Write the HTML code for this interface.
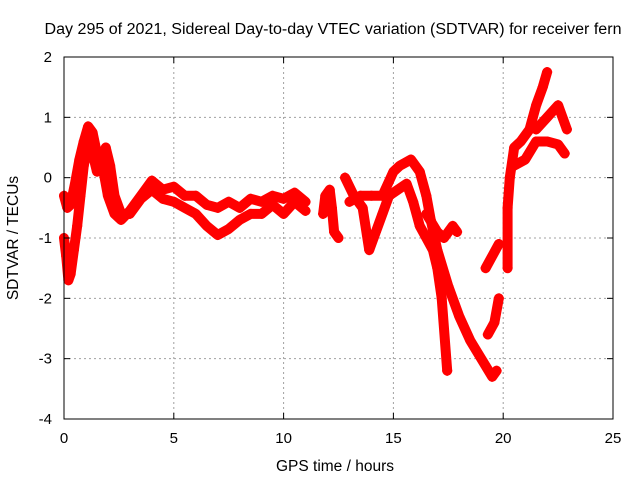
<!DOCTYPE html>
<html><head><meta charset="utf-8"><style>
body{margin:0;background:#fff;}
svg{display:block;font-family:"Liberation Sans",sans-serif;}
</style></head><body>
<svg id="chart" width="640" height="480" xmlns="http://www.w3.org/2000/svg">
<rect width="640" height="480" fill="#fff"/>
<g id="grid"></g>
<g id="series"></g>
<rect x="64" y="57" width="549" height="362" fill="none" stroke="#000" stroke-width="1"/>
<g id="ticks"></g>
<text x="333" y="34" text-anchor="middle" font-size="15.5" textLength="577" lengthAdjust="spacingAndGlyphs">Day 295 of 2021, Sidereal Day-to-day VTEC variation (SDTVAR) for receiver fern</text>
<text x="335" y="471" text-anchor="middle" font-size="15.5">GPS time / hours</text>
<text x="18" y="238" text-anchor="middle" font-size="15.5" transform="rotate(-90 18 238)">SDTVAR / TECUs</text>
</svg>
<script>
const xTicks=[0,5,10,15,20,25];
const yTicks=[-4,-3,-2,-1,0,1,2];
const t1=[0,0.15,0.3,0.5,0.7,0.9,1.1,1.3,1.5,1.8,2.0,2.3,2.6,3.0,3.5,4.0,4.5,5.0,5.5,6.0,6.5,7.0,7.5,8.0,8.5,9.0,9.5,10.0,10.5,11.0];
const v1=[-0.3,-0.5,-0.45,-0.1,0.3,0.6,0.85,0.75,0.4,0.1,-0.3,-0.6,-0.7,-0.55,-0.3,-0.05,-0.2,-0.15,-0.3,-0.3,-0.45,-0.5,-0.4,-0.5,-0.35,-0.4,-0.3,-0.35,-0.25,-0.4];
const t2=[0,0.1,0.2,0.3,0.45,0.6,0.75,0.9,1.1,1.3,1.5,1.7,1.9,2.1,2.3,2.6,3.0,3.5,4.0,4.5,5.0,5.5,6.0,6.5,7.0,7.5,8.0,8.5,9.0,9.5,10.0,10.5,11.0];
const v2=[-1.0,-1.3,-1.7,-1.6,-1.2,-0.8,-0.3,0.2,0.55,0.4,0.1,0.3,0.5,0.2,-0.3,-0.6,-0.6,-0.35,-0.2,-0.35,-0.4,-0.5,-0.6,-0.8,-0.95,-0.85,-0.7,-0.6,-0.6,-0.45,-0.6,-0.4,-0.55];
const t3=[11.8,11.9,12.1,12.2,12.3,12.5];
const v3=[-0.6,-0.3,-0.2,-0.5,-0.9,-1.0];
const t4=[12.8,13.2,13.6,13.9,14.2,14.5,14.8,15.2,15.6,15.9,16.2,16.5,16.8,17.0,17.2,17.45];
const v4=[0,-0.3,-0.5,-1.2,-0.9,-0.6,-0.3,-0.2,-0.1,-0.4,-0.8,-1.0,-1.2,-1.5,-2.0,-3.2];
const t5=[13.0,13.5,14.0,14.5,15.0,15.3,15.8,16.2,16.5,16.7,17.0,17.5,18.0,18.5,19.0,19.5,19.7];
const v5=[-0.4,-0.3,-0.3,-0.3,0.1,0.2,0.3,0.1,-0.3,-0.7,-1.2,-1.8,-2.3,-2.7,-3.0,-3.3,-3.2];
const t6=[16.5,17.0,17.3,17.7,17.9];
const v6=[-0.6,-0.9,-1.0,-0.8,-0.9];
const t7=[19.2,19.5,19.8];
const v7=[-1.5,-1.3,-1.1];
const t8=[19.3,19.6,19.8];
const v8=[-2.6,-2.4,-2.0];
const t9=[20.2,20.2,20.3,20.5,20.8,21.2,21.5,21.8,22.0];
const v9=[-1.5,-0.5,0,0.5,0.6,0.8,1.2,1.5,1.75];
const t10=[20.5,21.0,21.5,22.0,22.5,22.8];
const v10=[0.2,0.3,0.6,0.6,0.55,0.4];
const t11=[21.5,22.0,22.5,22.9];
const v11=[0.8,1.0,1.2,0.8];
const tracks=[[t1,v1],[t2,v2],[t3,v3],[t4,v4],[t5,v5],[t6,v6],[t7,v7],[t8,v8],[t9,v9],[t10,v10],[t11,v11]];
const X0=64,X1=613,Y0=419,Y1=57;
const xs=t=>X0+(t-0)/25*(X1-X0);
const ys=v=>Y0-(v+4)/6*(Y0-Y1);
const NS="http://www.w3.org/2000/svg";
const grid=document.getElementById('grid'),ticks=document.getElementById('ticks'),ser=document.getElementById('series');
function mk(tag,at,parent){const e=document.createElementNS(NS,tag);for(const k in at)e.setAttribute(k,at[k]);parent.appendChild(e);return e;}
xTicks.forEach(t=>{const x=xs(t);
 if(t>0&&t<25){const g=mk('line',{x1:x,x2:x,y1:Y1,y2:Y0,stroke:'#a0a0a0','stroke-dasharray':'2,3'},grid);}
 mk('line',{x1:x,x2:x,y1:Y0,y2:Y0-6,stroke:'#000'},ticks);mk('line',{x1:x,x2:x,y1:Y1,y2:Y1+6,stroke:'#000'},ticks);
 const l=mk('text',{x:x,y:443,'text-anchor':'middle','font-size':'15'},ticks);l.textContent=t;
 });
yTicks.forEach(v=>{const y=ys(v);
 if(v>-4&&v<2){const g=mk('line',{x1:X0,x2:X1,y1:y,y2:y,stroke:'#a0a0a0','stroke-dasharray':'2,3'},grid);}
 mk('line',{x1:X0,x2:X0+6,y1:y,y2:y,stroke:'#000'},ticks);mk('line',{x1:X1,x2:X1-6,y1:y,y2:y,stroke:'#000'},ticks);
 const l=mk('text',{x:52,y:y+5,'text-anchor':'end','font-size':'15'},ticks);l.textContent=v;
 });
tracks.forEach(([t,v],i)=>{
 const pts=t.map((tt,j)=>xs(tt)+','+ys(v[j])).join(' ');
 const p=mk('polyline',{points:pts,fill:'none',stroke:'#ff0000','stroke-width':10,'stroke-linejoin':'round','stroke-linecap':'round'},ser);
 
 
 t.forEach((tt,j)=>{const x=xs(tt),y=ys(v[j]);
  const m=mk('path',{d:`M${x-5},${y}H${x+5}M${x},${y-5}V${y+5}`,stroke:'#ff0000','stroke-width':2},ser);
  
  });
});
</script>
</body></html>
